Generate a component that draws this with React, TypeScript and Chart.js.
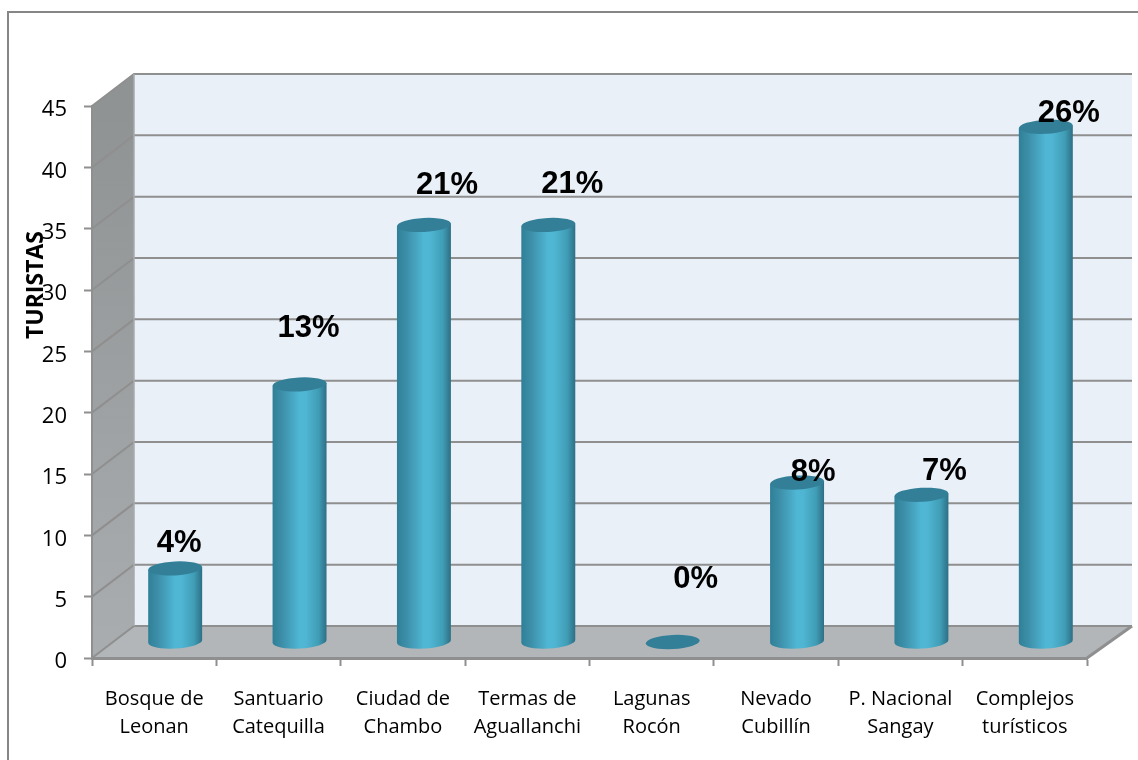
import React, { useEffect, useRef } from "react";
import { Chart, registerables } from "chart.js";

Chart.register(...registerables);

const categories = [
  ["Bosque de", "Leonan"],
  ["Santuario", "Catequilla"],
  ["Ciudad de", "Chambo"],
  ["Termas de", "Aguallanchi"],
  ["Lagunas", "Rocón"],
  ["Nevado", "Cubillín"],
  ["P. Nacional", "Sangay"],
  ["Complejos", "turísticos"],
];
const turistas = [6, 21, 34, 34, 0, 13, 12, 42];
const percentLabels = ["4%", "13%", "21%", "21%", "0%", "8%", "7%", "26%"];
const axisTitle = "TURISTAS";

// Style: manual label displacement from each bar's top, and 3D depth of the box
const labelOffsets = [
  [25, -41], [30, -72], [44, -55], [45, -56], [44, -79], [37, -26], [44, -39], [44, -29],
];
const DEPTH_X = 42;
const DEPTH_Y = 32;
const GRID = "#8f8f8f";
const FONT = '"Open Sans", sans-serif';

const box3d = {
  id: "box3d",
  beforeDraw(chart: any) {
    const { ctx, chartArea: a, scales } = chart;
    const y = scales.y;
    ctx.save();
    ctx.strokeStyle = "#868686";
    ctx.lineWidth = 2;
    ctx.beginPath();
    ctx.moveTo(8, 760);
    ctx.lineTo(8, 12);
    ctx.lineTo(1138, 12);
    ctx.stroke();
    const bx0 = a.left + DEPTH_X;
    const bx1 = a.right + 45;
    const byTop = a.top - DEPTH_Y;
    const byBot = a.bottom - DEPTH_Y;
    ctx.fillStyle = "#e9f0f7";
    ctx.fillRect(bx0, byTop, bx1 - bx0, byBot - byTop);
    const lw = ctx.createLinearGradient(0, a.top, 0, a.bottom);
    lw.addColorStop(0, "#8f9394");
    lw.addColorStop(1, "#a9adaf");
    ctx.fillStyle = lw;
    ctx.beginPath();
    ctx.moveTo(a.left, a.top);
    ctx.lineTo(bx0, byTop);
    ctx.lineTo(bx0, byBot);
    ctx.lineTo(a.left, a.bottom);
    ctx.closePath();
    ctx.fill();
    ctx.fillStyle = "#b2b6b9";
    ctx.beginPath();
    ctx.moveTo(a.left, a.bottom);
    ctx.lineTo(bx0, byBot);
    ctx.lineTo(bx1, byBot);
    ctx.lineTo(a.right, a.bottom);
    ctx.closePath();
    ctx.fill();
    ctx.strokeStyle = GRID;
    ctx.lineWidth = 2;
    y.ticks.forEach((t: any) => {
      const py = y.getPixelForValue(t.value);
      ctx.beginPath();
      ctx.moveTo(a.left, py);
      ctx.lineTo(bx0, py - DEPTH_Y);
      ctx.lineTo(bx1, py - DEPTH_Y);
      ctx.stroke();
    });
    ctx.lineWidth = 3;
    ctx.beginPath();
    ctx.moveTo(a.right, a.bottom);
    ctx.lineTo(bx1, byBot);
    ctx.stroke();
    ctx.lineWidth = 1.5;
    ctx.strokeStyle = "#a8abad";
    ctx.beginPath();
    ctx.moveTo(bx0, byTop);
    ctx.lineTo(bx0, byBot);
    ctx.stroke();
    ctx.restore();
  },
};

const cylinders = {
  id: "cylinders",
  afterDatasetsDraw(chart: any) {
    const { ctx } = chart;
    const meta = chart.getDatasetMeta(0);
    meta.data.forEach((bar: any) => {
      const cx = bar.x + DEPTH_X / 2;
      const top = bar.y - DEPTH_Y / 2;
      const bottom = bar.base - DEPTH_Y / 2;
      const rx = bar.width / 2;
      const ry = 7;
      const rot = (-3 * Math.PI) / 180;
      const dy = rx * Math.sin(rot);
      ctx.save();
      if (bottom - top > 0.5) {
        const g = ctx.createLinearGradient(cx - rx, 0, cx + rx, 0);
        g.addColorStop(0, "#2f7f97");
        g.addColorStop(0.18, "#3d8fa9");
        g.addColorStop(0.5, "#4fb7d5");
        g.addColorStop(0.62, "#4fb5d2");
        g.addColorStop(0.85, "#409db6");
        g.addColorStop(1, "#2d6f85");
        ctx.fillStyle = g;
        ctx.beginPath();
        ctx.moveTo(cx - rx, top - dy);
        ctx.lineTo(cx - rx, bottom - dy);
        ctx.ellipse(cx, bottom, rx, ry, rot, Math.PI, 0, true);
        ctx.lineTo(cx + rx, top + dy);
        ctx.closePath();
        ctx.fill();
      }
      ctx.fillStyle = "#337f98";
      ctx.beginPath();
      ctx.ellipse(cx, top, rx, ry, rot, 0, Math.PI * 2);
      ctx.fill();
      ctx.restore();
    });
    ctx.save();
    ctx.fillStyle = "#000";
    ctx.textAlign = "center";
    ctx.textBaseline = "middle";
    ctx.font = 'bold 31px "Liberation Sans", Arial, sans-serif';
    meta.data.forEach((bar: any, i: number) => {
      ctx.fillText(percentLabels[i], bar.x + labelOffsets[i][0], bar.y + labelOffsets[i][1]);
    });
    ctx.textBaseline = "alphabetic";
    ctx.translate(43, 285);
    ctx.rotate(-Math.PI / 2);
    ctx.font = `bold 23px ${FONT}`;
    ctx.fillText(axisTitle, 0, 0);
    ctx.restore();
  },
};

export default function App() {
  const ref = useRef<HTMLCanvasElement>(null);
  useEffect(() => {
    document.body.style.margin = "0";
    const chart = new Chart(ref.current as HTMLCanvasElement, {
      type: "bar",
      data: {
        labels: categories,
        datasets: [
          {
            label: axisTitle,
            data: turistas,
            backgroundColor: "rgba(0,0,0,0)",
            borderWidth: 0,
            categoryPercentage: 1,
            barPercentage: 0.434,
          },
        ],
      },
      options: {
        responsive: false,
        animation: false,
        layout: { padding: { top: 106, right: 51, left: 0, bottom: 0 } },
        plugins: { legend: { display: false }, title: { display: false }, tooltip: { enabled: false } },
        scales: {
          x: {
            afterFit: (s: any) => { s.height = 102; },
            grid: {
              display: true,
              offset: true,
              drawOnChartArea: false,
              drawTicks: true,
              tickLength: 8,
              tickWidth: 2,
              tickColor: GRID,
            },
            border: { display: true, color: GRID, width: 3 },
            ticks: {
              color: "#000",
              font: { family: FONT, size: 20, lineHeight: 1.4 },
              padding: 19,
              maxRotation: 0,
              minRotation: 0,
              autoSkip: false,
            },
          },
          y: {
            min: 0,
            max: 45,
            afterFit: (s: any) => { s.width = 92; },
            grid: {
              display: true,
              drawOnChartArea: false,
              drawTicks: true,
              tickLength: 8,
              tickWidth: 2,
              tickColor: GRID,
            },
            border: { display: true, color: GRID, width: 2 },
            ticks: {
              stepSize: 5,
              color: "#000",
              font: { family: FONT, size: 22 },
              padding: 17,
              labelOffset: 4,
            },
          },
        },
      },
      plugins: [box3d, cylinders],
    } as any);
    return () => chart.destroy();
  }, []);
  return (
    <canvas
      ref={ref}
      width={1138}
      height={760}
      style={{ position: "absolute", left: 0, top: 0, display: "block" }}
    />
  );
}
